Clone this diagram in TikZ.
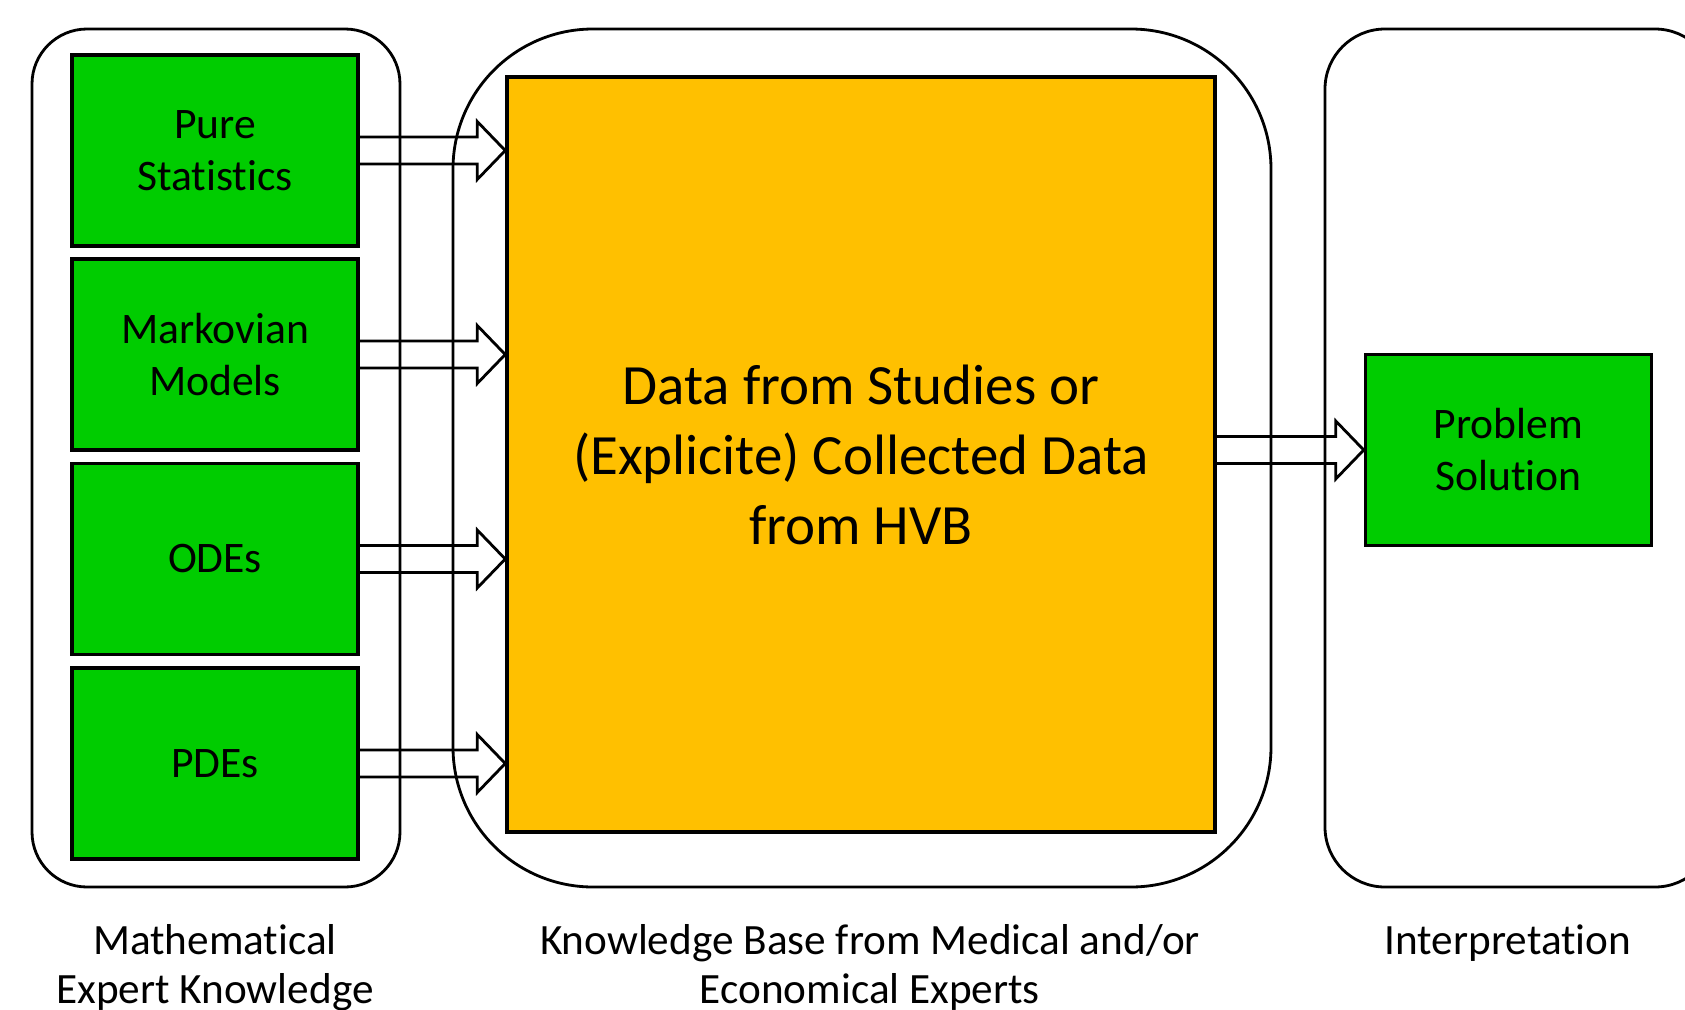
\documentclass[tikz,border=0pt]{standalone}
\usepackage{fontspec}
\setmainfont[Ligatures=NoCommon]{Carlito}
\usetikzlibrary{calc}
\definecolor{boxgreen}{RGB}{0,204,0}
\definecolor{datagold}{RGB}{255,192,0}
% open block arrow from tail point #1 to tip point #2
\newcommand{\hollowarrow}[2]{%
\coordinate (tail) at (#1);
\coordinate (tip) at (#2);
\draw ($(tail)+(0,0.135)$)--($(tip)+(-0.28,0.135)$)--($(tip)+(-0.28,0.29)$)--(tip)
  --($(tip)+(-0.28,-0.29)$)--($(tip)+(-0.28,-0.135)$)--($(tail)+(0,-0.135)$);
}
\begin{document}
\begin{tikzpicture}[thick,
  method/.style={draw,line width=1pt,fill=boxgreen,minimum width=2.86cm,minimum height=1.91cm,inner sep=0pt,align=center,font=\fontsize{12.4}{14.8}\selectfont},
  caption/.style={align=center,font=\fontsize{12.3}{14}\selectfont}]
\clip (0,0) rectangle (16.85,10.09);
% frames
\draw[rounded corners=0.55cm] (0.32,1.22) rectangle (4.00,9.80);
\draw[rounded corners=1.4cm] (4.53,1.22) rectangle (12.71,9.80);
\draw[rounded corners=0.6cm] (13.25,1.22) rectangle (17.15,9.80);
% methods
\node (ps) at (2.15,8.585) [method] {Pure\\Statistics};
\node (mm) at (2.15,6.545) [method] {Markovian\\Models};
\node (ode) at (2.15,4.50) [method] {ODEs};
\node (pde) at (2.15,2.455) [method] {PDEs};
\node (data) at (8.61,5.545) [draw,line width=1pt,fill=datagold,minimum width=7.08cm,minimum height=7.55cm,inner sep=0pt,align=center,font=\fontsize{16.2}{19.9}\selectfont] {Data from Studies or\\(Explicite) Collected Data\\from HVB};
\node (sol) at (15.085,5.59) [method] {Problem\\Solution};
% arrows
\hollowarrow{ps.east}{ps.east -| data.west}
\hollowarrow{mm.east}{mm.east -| data.west}
\hollowarrow{ode.east}{ode.east -| data.west}
\hollowarrow{pde.east}{pde.east -| data.west}
\hollowarrow{data.east |- sol.west}{sol.west}
% captions
\node (mek) at (2.15,0.415) [caption] {Mathematical\\Expert Knowledge};
\node (kb) at (8.70,0.415) [caption] {Knowledge Base from Medical and/or\\Economical Experts};
\node (interp) at (15.08,0.66) [caption] {Interpretation};
\end{tikzpicture}
\end{document}
